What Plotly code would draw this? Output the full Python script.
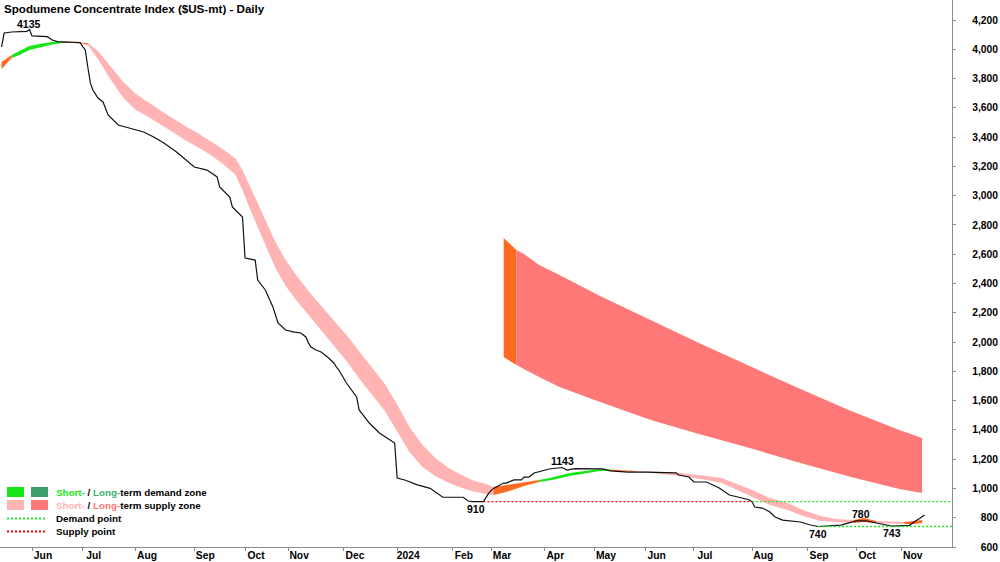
import plotly.graph_objects as go

TITLE = "Spodumene Concentrate Index ($US-mt) - Daily"

# ---------------- data ----------------
price_dates = [
    "2023-05-16", "2023-05-17", "2023-05-22", "2023-05-29", "2023-05-30", "2023-05-31",
    "2023-06-01", "2023-06-09", "2023-06-13", "2023-06-15", "2023-06-30",
    "2023-07-03", "2023-07-04", "2023-07-05", "2023-07-06", "2023-07-07", "2023-07-11",
    "2023-07-13", "2023-07-17", "2023-07-21", "2023-07-27",
    "2023-08-04", "2023-08-10", "2023-08-16", "2023-08-23", "2023-08-30",
    "2023-09-01", "2023-09-08", "2023-09-14", "2023-09-15", "2023-09-21", "2023-09-22", "2023-09-28",
    "2023-10-09", "2023-10-13", "2023-10-16", "2023-10-18", "2023-10-19", "2023-10-24", "2023-10-26", "2023-10-31",
    "2023-11-03", "2023-11-08", "2023-11-10", "2023-11-13", "2023-11-14", "2023-11-16", "2023-11-20",
    "2023-11-23", "2023-11-27", "2023-11-28", "2023-11-29",
    "2023-12-04", "2023-12-08", "2023-12-11", "2023-12-15", "2023-12-21", "2023-12-28", "2023-12-29",
    "2024-01-02", "2024-01-05", "2024-01-12", "2024-01-19", "2024-01-26",
    "2024-02-07", "2024-02-19", "2024-02-21", "2024-02-27", "2024-02-28", "2024-02-29",
    "2024-03-01", "2024-03-04", "2024-03-08", "2024-03-11", "2024-03-14", "2024-03-19", "2024-03-20",
    "2024-03-22", "2024-03-26",
    "2024-04-01", "2024-04-03", "2024-04-12", "2024-04-16", "2024-04-19", "2024-04-24",
    "2024-05-06", "2024-05-09", "2024-05-14", "2024-05-23",
    "2024-06-03", "2024-06-14", "2024-06-20", "2024-06-21", "2024-06-26", "2024-06-27",
    "2024-07-01", "2024-07-08", "2024-07-15", "2024-07-19", "2024-07-26", "2024-07-31",
    "2024-08-01", "2024-08-02", "2024-08-07", "2024-08-12", "2024-08-14", "2024-08-19", "2024-08-28",
    "2024-09-03", "2024-09-06", "2024-09-12", "2024-09-23",
    "2024-10-08", "2024-10-11", "2024-10-14", "2024-10-18", "2024-10-24", "2024-10-28",
    "2024-11-06", "2024-11-08", "2024-11-11", "2024-11-12", "2024-11-13", "2024-11-14",
]
price_values = [
    4016, 4111, 4118, 4118, 4122, 4135,
    4091, 4086, 4063, 4052, 4045,
    4018, 3995, 3879, 3770, 3722, 3667,
    3640, 3551, 3483, 3462,
    3435, 3401, 3360, 3298, 3223,
    3196, 3175, 3128, 3059, 2991, 2923, 2854,
    2574, 2560, 2424, 2376, 2356, 2240, 2130, 2082,
    2069, 2062, 2035, 1994, 1966, 1946, 1932,
    1891, 1857, 1830, 1809,
    1720, 1625, 1536, 1447, 1379, 1317, 1310,
    1071, 1058, 1024, 1001, 940,
    940, 914, 910, 910, 940, 965,
    985, 1000, 1037, 1037, 1058, 1058, 1078,
    1078, 1106,
    1126, 1133, 1143, 1125, 1136, 1136,
    1138, 1133, 1120, 1112,
    1112, 1106, 1106, 1092, 1078, 1078,
    1044, 1044, 1003, 955, 935, 921,
    907, 873, 866, 839, 805, 784, 771,
    750, 740, 743, 750,
    778, 780, 778, 764, 750, 743,
    748, 775, 785, 795, 805, 819,
]

# short-term zone: upper / lower bound, zone of the segment starting at each point
# D = demand (green), S = supply (pink), T = transition (orange)
st_dates = [
    "2023-05-16", "2023-05-18", "2023-05-22", "2023-05-25", "2023-05-31", "2023-06-07", "2023-06-13",
    "2023-06-19", "2023-06-27", "2023-07-03", "2023-07-05", "2023-07-11", "2023-07-18", "2023-07-25",
    "2023-08-01", "2023-08-08", "2023-08-15", "2023-08-22", "2023-08-29", "2023-09-05", "2023-09-12",
    "2023-09-19", "2023-09-25", "2023-09-28", "2023-10-10", "2023-10-13", "2023-10-19", "2023-10-25",
    "2023-10-31", "2023-11-06", "2023-11-13", "2023-11-20", "2023-11-27", "2023-12-04", "2023-12-11",
    "2023-12-18", "2023-12-25", "2024-01-02", "2024-01-09", "2024-01-16", "2024-01-23", "2024-01-30",
    "2024-02-06", "2024-02-21", "2024-02-28", "2024-03-04", "2024-03-11", "2024-03-20", "2024-03-28",
    "2024-04-08", "2024-04-17", "2024-04-26", "2024-05-08", "2024-05-14", "2024-05-28", "2024-06-05",
    "2024-06-24", "2024-07-08", "2024-07-16", "2024-08-01", "2024-08-12", "2024-08-21", "2024-08-29",
    "2024-09-09", "2024-09-19", "2024-09-30", "2024-10-11", "2024-10-18", "2024-11-04", "2024-11-08",
    "2024-11-13",
]
st_hi = [
    3913, 3940, 3961, 3988, 4022, 4039, 4050,
    4053, 4050, 4046, 4043, 3988, 3882, 3776,
    3694, 3633, 3578, 3524, 3469, 3421, 3367,
    3309, 3257, 3175, 3100, 2984, 2841, 2684,
    2561, 2461, 2349, 2246, 2147, 2048, 1936,
    1826, 1717, 1573, 1416, 1297, 1208, 1143,
    1095, 1054, 1030, 1010, 1023, 1040, 1058,
    1074, 1106, 1122, 1133, 1130, 1119, 1116,
    1106, 1085, 1071, 989, 935, 901, 853,
    812, 791, 784, 798, 778, 771, 778,
    784,
]
st_lo = [
    3865, 3906, 3940, 3961, 3995, 4016, 4033,
    4043, 4043, 4039, 4029, 3934, 3794, 3667,
    3585, 3537, 3483, 3428, 3373, 3326, 3271,
    3206, 3148, 3039, 2950, 2820, 2663, 2506,
    2383, 2291, 2185, 2082, 1976, 1871, 1751,
    1642, 1533, 1389, 1246, 1147, 1085, 1041,
    1007, 979, 962, 955, 975, 1017, 1044,
    1058, 1085, 1106, 1119, 1119, 1112, 1106,
    1085, 1058, 1037, 942, 887, 853, 812,
    778, 771, 764, 771, 764, 757, 757,
    764,
]
st_zone = [
    "T", "T", "D", "D", "D", "D", "D",
    "T", "T", "T", "S", "S", "S", "S",
    "S", "S", "S", "S", "S", "S", "S",
    "S", "S", "S", "S", "S", "S", "S",
    "S", "S", "S", "S", "S", "S", "S",
    "S", "S", "S", "S", "S", "S", "S",
    "S", "S", "S", "T", "T", "T", "D",
    "D", "D", "D", "D", "T", "S", "S",
    "S", "S", "S", "S", "S", "S", "S",
    "S", "S", "T", "T", "S", "T", "T",
    "T",
]

# long-term zone
lt_dates = ["2024-03-08", "2024-03-15", "2024-03-20", "2024-03-28", "2024-04-11", "2024-05-08",
            "2024-06-05", "2024-07-03", "2024-07-31", "2024-08-28", "2024-09-27", "2024-10-31",
            "2024-11-13"]
lt_hi = [2711, 2629, 2601, 2526, 2458, 2315, 2151, 1994, 1836, 1679, 1529, 1399, 1345]
lt_lo = [1898, 1843, 1815, 1761, 1693, 1591, 1468, 1372, 1276, 1174, 1078, 996, 969]
lt_zone = ["T", "S", "S", "S", "S", "S", "S", "S", "S", "S", "S", "S", "S"]

# supply / demand points (level, start, end)
supply_points = [(910, "2024-02-27", "2024-08-01")]
axis_start = "2023-05-15 09:00"
axis_end = "2024-11-28 19:00"
demand_points = [(910, "2024-08-01", axis_end), (740, "2024-09-06", axis_end)]

# value labels (date, value, vertical shift in px)
label_dates = ["2023-05-31", "2024-04-12", "2024-02-22", "2024-09-06", "2024-10-10", "2024-10-28"]
label_values = [4135, 1143, 910, 740, 780, 743]
label_shift = [6, 7, -7, -7, 7, -7]

month_tick_dates = ["2023-06-01", "2023-07-03", "2023-08-01", "2023-09-01", "2023-10-09", "2023-11-01",
                    "2023-12-01", "2024-01-02", "2024-02-01", "2024-03-01", "2024-04-01", "2024-05-06",
                    "2024-06-03", "2024-07-01", "2024-08-01", "2024-09-02", "2024-10-08", "2024-11-01"]
month_tick_text = ["Jun", "Jul", "Aug", "Sep", "Oct", "Nov", "Dec", "2024", "Feb", "Mar", "Apr", "May",
                   "Jun", "Jul", "Aug", "Sep", "Oct", "Nov"]
y_tick_vals = list(range(600, 4201, 200))
y_range = [600, 4336.6]

holidays = ["2023-06-22", "2023-06-23", "2023-09-29", "2023-10-02", "2023-10-03", "2023-10-04",
            "2023-10-05", "2023-10-06", "2024-01-01", "2024-02-09", "2024-02-12", "2024-02-13",
            "2024-02-14", "2024-02-15", "2024-02-16", "2024-04-04", "2024-04-05", "2024-05-01",
            "2024-05-02", "2024-05-03", "2024-06-10", "2024-09-16", "2024-09-17", "2024-10-01",
            "2024-10-02", "2024-10-03", "2024-10-04", "2024-10-07"]

# ---------------- styles ----------------
ZONE_COLORS_ST = {"D": "#16E616", "S": "#FFB3B3", "T": "#FF6A22"}
ZONE_COLORS_LT = {"D": "#3C9F6B", "S": "#FF7878", "T": "#FF6A22"}
GREEN_TXT = "#16E616"
LTGREEN_TXT = "#3CB371"
DEMAND_DOT = "#1EE61E"
SUPPLY_DOT = "#FF0000"
FONT = "Liberation Sans, Arial, sans-serif"
AXIS_GREY = "#8C8C8C"
PLOT_BOTTOM = 547.0

fig = go.Figure()


def add_zone(dates, hi, lo, zone, colors):
    n = len(dates)
    i = 0
    while i < n - 1:
        z = zone[i]
        j = i
        while j < n - 1 and zone[j] == z:
            j += 1
        xs = dates[i:j + 1] + dates[i:j + 1][::-1]
        ys = hi[i:j + 1] + lo[i:j + 1][::-1]
        fig.add_trace(go.Scatter(x=xs, y=ys, fill="toself", fillcolor=colors[z], mode="lines",
                                 line=dict(width=0, color=colors[z]), hoverinfo="skip", showlegend=False))
        i = j


add_zone(st_dates, st_hi, st_lo, st_zone, ZONE_COLORS_ST)
add_zone(lt_dates, lt_hi, lt_lo, lt_zone, ZONE_COLORS_LT)

for lvl, s, e in supply_points:
    fig.add_trace(go.Scatter(x=[s, e], y=[lvl, lvl], mode="lines", yaxis="y2",
                             line=dict(color=SUPPLY_DOT, width=1.4, dash="2px,2px"),
                             hoverinfo="skip", showlegend=False))
for lvl, s, e in demand_points:
    fig.add_trace(go.Scatter(x=[s, e], y=[lvl, lvl], mode="lines", yaxis="y2",
                             line=dict(color=DEMAND_DOT, width=1.4, dash="2px,2px"),
                             hoverinfo="skip", showlegend=False))

fig.add_trace(go.Scatter(x=price_dates, y=price_values, mode="lines",
                         line=dict(color="#111111", width=1.2), showlegend=False))

annotations = []
for d, v, s in zip(label_dates, label_values, label_shift):
    annotations.append(dict(x=d, y=v, xref="x", yref="y", text=str(v), showarrow=False,
                            yshift=s, xanchor="center", yanchor="middle",
                            font=dict(family=FONT, size=10.5, color="black", weight="bold")))

annotations.append(dict(x=0.002, y=1, xref="paper", yref="paper", text=TITLE, showarrow=False,
                        xanchor="left", yanchor="top", yshift=0,
                        font=dict(family=FONT, size=11.6, color="black", weight="bold")))

# ---------------- custom legend ----------------
def lx(p):
    return p / 1000.0


def ly(p):
    return (PLOT_BOTTOM - p) / PLOT_BOTTOM


shapes = []
legend_sq = [(7, 487, ZONE_COLORS_ST["D"]), (31, 487, ZONE_COLORS_LT["D"]),
             (7, 500, ZONE_COLORS_ST["S"]), (31, 500, ZONE_COLORS_LT["S"])]
for x0, y0, c in legend_sq:
    shapes.append(dict(type="rect", xref="paper", yref="paper", x0=lx(x0), x1=lx(x0 + 17),
                       y0=ly(y0 + 10), y1=ly(y0), fillcolor=c, line=dict(width=0), layer="above"))
for yy, c in [(518.5, DEMAND_DOT), (531.5, SUPPLY_DOT)]:
    shapes.append(dict(type="line", xref="paper", yref="paper", x0=lx(7), x1=lx(46),
                       y0=ly(yy), y1=ly(yy), line=dict(color=c, width=2, dash="2px,2px")))

legend_rows = [
    (492.5, f"<span style='color:{GREEN_TXT}'>Short-</span> / <span style='color:{LTGREEN_TXT}'>Long-</span>term demand zone"),
    (505.5, f"<span style='color:{ZONE_COLORS_ST['S']}'>Short-</span> / <span style='color:{ZONE_COLORS_LT['S']}'>Long-</span>term supply zone"),
    (518.5, "Demand point"),
    (531.5, "Supply point"),
]
for yy, t in legend_rows:
    annotations.append(dict(x=lx(54), y=ly(yy), xref="paper", yref="paper", text=t, showarrow=False,
                            xanchor="left", yanchor="middle",
                            font=dict(family=FONT, size=9.8, color="black", weight="bold")))

fig.update_layout(
    width=1000, height=562,
    margin=dict(l=0, r=0, t=0, b=562 - int(PLOT_BOTTOM), autoexpand=False),
    paper_bgcolor="white", plot_bgcolor="white",
    showlegend=False,
    xaxis=dict(type="date", domain=[0, 0.952], range=[axis_start, axis_end], automargin=False,
               rangebreaks=[dict(bounds=["sat", "mon"]), dict(values=holidays)],
               tickmode="array", tickvals=month_tick_dates, ticktext=month_tick_text,
               ticks="outside", ticklen=3, tickcolor=AXIS_GREY, showgrid=False, zeroline=False,
               showline=True, linecolor=AXIS_GREY, linewidth=1,
               ticklabelshift=11, ticklabelstandoff=-4,
               tickfont=dict(family=FONT, size=10.3, color="black", weight="bold")),
    yaxis=dict(range=y_range, side="right", anchor="x", tickmode="array", tickvals=y_tick_vals,
               automargin=False,
               showticklabels=False, ticks="outside", ticklen=3, tickcolor=AXIS_GREY,
               showgrid=False, zeroline=False, showline=True, linecolor=AXIS_GREY, linewidth=1),
    yaxis2=dict(range=y_range, overlaying="y", side="left", anchor="free", position=0.998,
                automargin=False,
                tickmode="array", tickvals=y_tick_vals, tickformat=",", ticks="",
                showgrid=False, zeroline=False, showline=False,
                tickfont=dict(family=FONT, size=10.3, color="black", weight="bold")),
    annotations=annotations,
    shapes=shapes,
)

fig.write_html("out.html")
